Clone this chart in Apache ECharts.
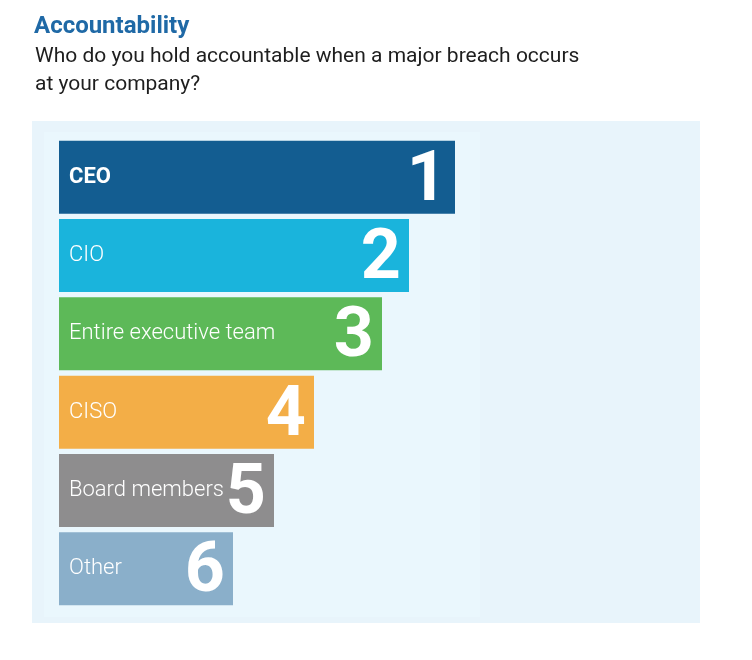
<!DOCTYPE html>
<html>
<head>
<meta charset="utf-8">
<title>Accountability</title>
<script src="https://cdn.jsdelivr.net/npm/echarts@6/dist/echarts.min.js"></script>
<style>
  html, body { margin: 0; padding: 0; background: #fff; }
  #chart { width: 752px; height: 660px; }
</style>
</head>
<body>
<div id="chart"></div>
<script>
// categories, top to bottom
const roles = ['CEO', 'CIO', 'Entire executive team', 'CISO', 'Board members', 'Other'];
// rank shown on each bar
const ranks = [1, 2, 3, 4, 5, 6];
// bar lengths
const barLengths = [396, 350, 323, 255, 215, 174];
const barColors = ['#135d91', '#1ab4dc', '#5db958', '#f3ae47', '#8e8d8e', '#8aafca'];

let chart = echarts.init(document.getElementById('chart'));

chart.setOption({
    backgroundColor: '#ffffff',
    animation: false,
    textStyle: { fontFamily: 'Roboto' },
    graphic: [
        // outer light panel
        { type: 'rect', z: -10, shape: { x: 32, y: 121, width: 668, height: 502 },
          style: { fill: '#e8f4fb' } },
        // inner lighter panel
        { type: 'rect', z: -9, shape: { x: 44, y: 132, width: 436, height: 485 },
          style: { fill: '#eaf7fd' } },
        { type: 'text', left: 34, top: 15,
          style: { text: 'Accountability', fill: '#1f69a6', font: 'bold 24px Roboto' } },
        { type: 'text', left: 35, top: 43,
          style: { text: 'Who do you hold accountable when a major breach occurs\nat your company?',
                   fill: '#1e1e1e', font: '21px Roboto', lineHeight: 28 } }
    ],
    grid: { left: 59, top: 138, width: 400, height: 470 },
    xAxis: { type: 'value', min: 0, max: 400, show: false },
    yAxis: {
        type: 'category',
        inverse: true,
        data: roles,
        show: false
    },
    series: [{
        type: 'bar',
        barWidth: 73,
        data: barLengths.map(function (v, i) {
            return {
                value: v,
                itemStyle: { color: barColors[i] },
                label: {
                    fontWeight: i === 0 ? 'bold' : 300
                }
            };
        }),
        label: {
            show: true,
            position: 'insideLeft',
            distance: 10,
            color: '#ffffff',
            fontSize: 22,
            fontFamily: 'Roboto',
            formatter: function (p) { return roles[p.dataIndex]; }
        },
        silent: true
    }, {
        // rank numbers, drawn at the end of each bar
        type: 'bar',
        barWidth: 73,
        barGap: '-100%',
        itemStyle: { color: 'transparent' },
        data: barLengths,
        label: {
            show: true,
            position: 'insideRight',
            distance: 8,
            offset: [0, 5],
            color: '#ffffff',
            fontSize: 70,
            fontWeight: 'bold',
            fontFamily: 'Roboto',
            formatter: function (p) { return String(ranks[p.dataIndex]); }
        },
        silent: true,
        z: 3
    }]
});
</script>
</body>
</html>
